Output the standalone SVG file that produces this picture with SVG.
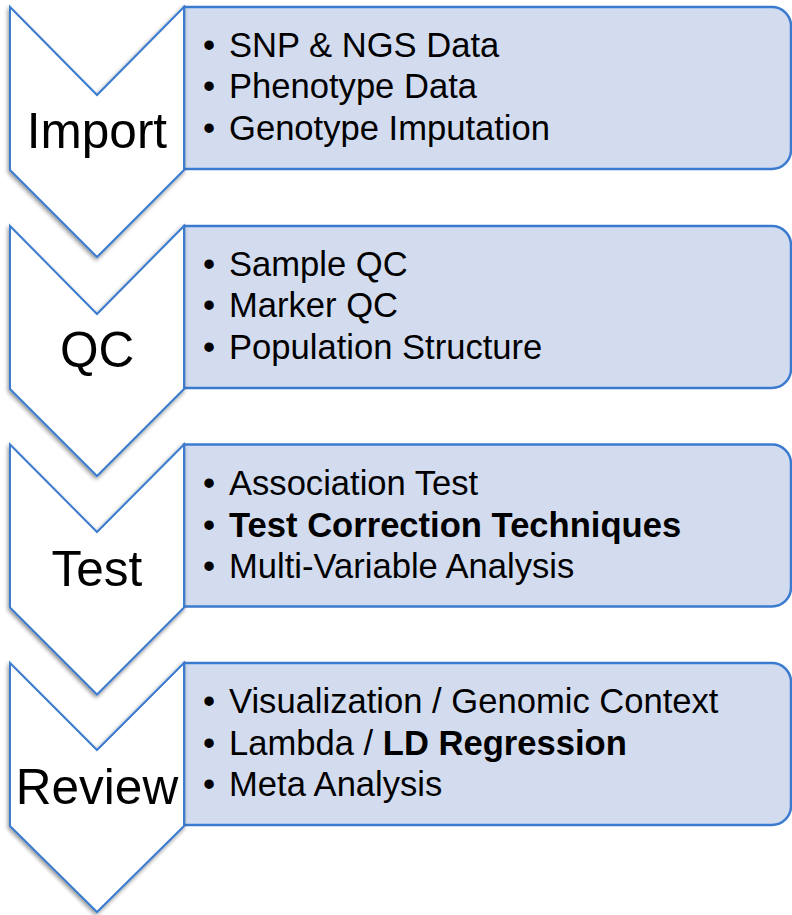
<svg xmlns="http://www.w3.org/2000/svg" width="792" height="915" viewBox="0 0 792 915">
<defs>
<style>
.chev{fill:#ffffff;stroke:#3b7bcf;stroke-width:2;stroke-linejoin:miter;filter:url(#sh)}
.box{fill:#d3dcef;stroke:#3b7bcf;stroke-width:2.5}
.lbl{font-family:"Liberation Sans",Arial,sans-serif;font-size:49.5px;fill:#000;text-anchor:middle}
.item{font-family:"Liberation Sans",Arial,sans-serif;font-size:34.6px;fill:#000}
.b{font-weight:bold}
</style>
<filter id="sh" x="-20%" y="-20%" width="140%" height="140%">
<feGaussianBlur in="SourceAlpha" stdDeviation="2"/>
<feOffset dx="-1" dy="2" result="o"/>
<feComponentTransfer><feFuncA type="linear" slope="0.45"/></feComponentTransfer>
<feMerge><feMergeNode/><feMergeNode in="SourceGraphic"/></feMerge>
</filter>
</defs>
<g id="connectors"></g>
<g id="box-import">
<path class="box" d="M184,7 H772 A19,19 0 0 1 791,26 V150 A19,19 0 0 1 772,169 H184 Z"/>
<text class="item" x="203" y="56.5">•</text><text class="item" x="229" y="56.5">SNP &amp; NGS Data</text>
<text class="item" x="203" y="98.3">•</text><text class="item" x="229" y="98.3">Phenotype Data</text>
<text class="item" x="203" y="140">•</text><text class="item" x="229" y="140">Genotype Imputation</text>
</g>
<g id="box-qc">
<path class="box" d="M184,226 H772 A19,19 0 0 1 791,245 V369 A19,19 0 0 1 772,388 H184 Z"/>
<text class="item" x="203" y="275.5">•</text><text class="item" x="229" y="275.5">Sample QC</text>
<text class="item" x="203" y="317.3">•</text><text class="item" x="229" y="317.3">Marker QC</text>
<text class="item" x="203" y="359">•</text><text class="item" x="229" y="359">Population Structure</text>
</g>
<g id="box-test">
<path class="box" d="M184,444.5 H772 A19,19 0 0 1 791,463.5 V587.5 A19,19 0 0 1 772,606.5 H184 Z"/>
<text class="item" x="203" y="495">•</text><text class="item" x="229" y="495">Association Test</text>
<text class="item" x="203" y="536.7">•</text><text class="item b" x="229" y="536.7">Test Correction Techniques</text>
<text class="item" x="203" y="578.3">•</text><text class="item" x="229" y="578.3">Multi-Variable Analysis</text>
</g>
<g id="box-review">
<path class="box" d="M184,663 H772 A19,19 0 0 1 791,682 V806 A19,19 0 0 1 772,825 H184 Z"/>
<text class="item" x="203" y="713">•</text><text class="item" x="229" y="713">Visualization / Genomic Context</text>
<text class="item" x="203" y="754.7">•</text><text class="item" x="229" y="754.7">Lambda / <tspan class="b">LD Regression</tspan></text>
<text class="item" x="203" y="796.3">•</text><text class="item" x="229" y="796.3">Meta Analysis</text>
</g>
<g id="chev-import">
<path class="chev" d="M10,7 L97,95 L184,7 V170 L97,257 L10,170 Z"/>
<text class="lbl" x="97" y="148">Import</text>
</g>
<g id="chev-qc">
<path class="chev" d="M10,226 L97,314 L184,226 V389 L97,476 L10,389 Z"/>
<text class="lbl" x="97" y="367">QC</text>
</g>
<g id="chev-test">
<path class="chev" d="M10,444.5 L97,532 L184,444.5 V607.5 L97,694.5 L10,607.5 Z"/>
<text class="lbl" x="97" y="585.5">Test</text>
</g>
<g id="chev-review">
<path class="chev" d="M10,663 L97,750 L184,663 V826 L97,912 L10,826 Z"/>
<text class="lbl" x="97" y="804">Review</text>
</g>
</svg>
